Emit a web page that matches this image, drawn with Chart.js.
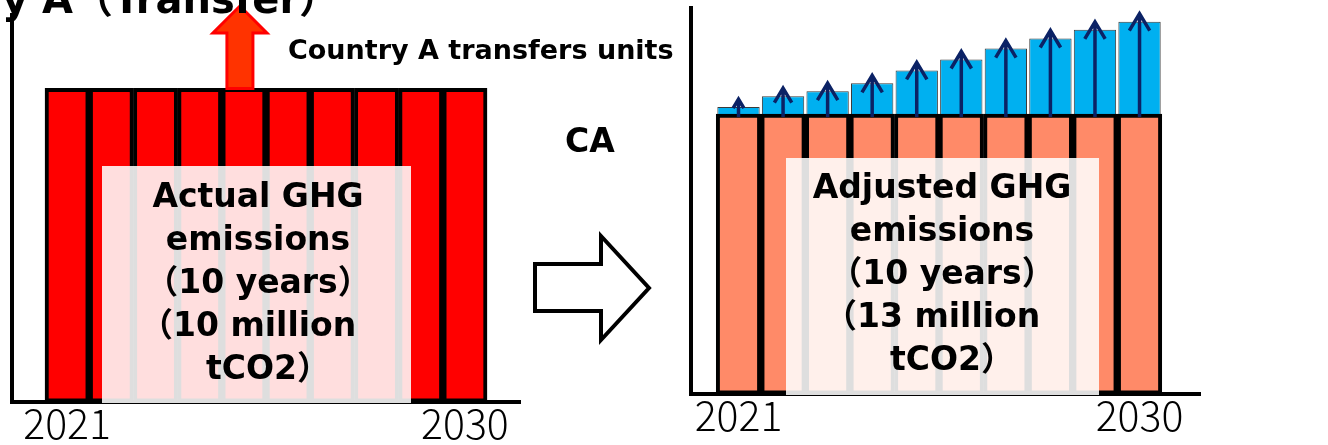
<!DOCTYPE html>
<html>
<head>
<meta charset="utf-8">
<script src="https://cdn.jsdelivr.net/npm/chart.js@4.4.1/dist/chart.umd.min.js"></script>
<style>
  html, body { margin: 0; padding: 0; background: #fff; }
  #wrap { position: relative; width: 1328px; height: 445px; overflow: hidden; }
  #wrap canvas { position: absolute; left: 0; top: 0; }
</style>
</head>
<body>
<div id="wrap">
  <canvas id="before" width="1328" height="445"></canvas>
  <canvas id="after" width="1328" height="445"></canvas>
</div>
<script>
const years = [2021, 2022, 2023, 2024, 2025, 2026, 2027, 2028, 2029, 2030];
const tickYears = [2021, 2030];
// million tCO2 per year
const actualEmissions = [1, 1, 1, 1, 1, 1, 1, 1, 1, 1];
const adjustedBase = [1, 1, 1, 1, 1, 1, 1, 1, 1, 1];
const transferredUnits = [0.025, 0.064, 0.082, 0.11, 0.156, 0.195, 0.234, 0.27, 0.301, 0.33];

const titleText = 'Country A（Transfer）';
const transferText = 'Country A transfers units';
const caText = 'CA';
const actualLines = ['Actual GHG', 'emissions', '（10 years）', '（10 million', 'tCO2）'];
const adjustedLines = ['Adjusted GHG', 'emissions', '（10 years）', '（13 million', 'tCO2）'];

const FONT = '"DejaVu Sans", "Noto Sans CJK JP", sans-serif';
const CJK_FONT = '"Noto Sans CJK JP", sans-serif';
const TICK_FONT = '"Noto Sans CJK JP", "Noto Sans", sans-serif';

let points = (values) => years.map((y, i) => ({ x: y, y: values[i] }));

let yearTicks = {
  color: '#000',
  padding: 3,
  maxRotation: 0,
  autoSkip: false,
  font: { family: TICK_FONT, size: 41, weight: 300, lineHeight: 0.9 },
  callback: (v) => String(v),
};

let setYearTicks = (scale) => {
  scale.ticks = tickYears.map(v => ({ value: v }));
};

let drawTextBox = (ctx, rect, lines, cx, baseline, step) => {
  const size = 33;
  ctx.save();
  ctx.fillStyle = 'rgba(255,255,255,0.87)';
  ctx.fillRect(rect[0], rect[1], rect[2] - rect[0], rect[3] - rect[1]);
  ctx.fillStyle = '#000';
  ctx.font = `bold ${size}px ${FONT}`;
  ctx.textAlign = 'left';
  ctx.textBaseline = 'alphabetic';
  lines.forEach((line, i) => {
    // full-width brackets carry blank space on their outer side, centre on the ink
    let w = ctx.measureText(line).width;
    let lead = line.startsWith('（') ? size * 0.6 : 0;
    let trail = line.endsWith('）') ? size * 0.6 : 0;
    ctx.fillText(line, cx - (w - lead - trail) / 2 - lead, baseline + i * step);
  });
  ctx.restore();
};

// latin in DejaVu, full-width brackets from the CJK font
let drawMixed = (ctx, text, size, x, y) => {
  text.split(/([（）])/).filter(Boolean).forEach(part => {
    ctx.font = `bold ${size}px ${/[（）]/.test(part) ? CJK_FONT : FONT}`;
    ctx.fillText(part, x, y);
    x += ctx.measureText(part).width;
  });
};

// left panel extras: transfer arrow, captions, text box, the big arrow between panels
const beforeDecor = {
  id: 'beforeDecor',
  afterDatasetsDraw(chart) {
    const { ctx, scales: { x, y } } = chart;
    const top = y.getPixelForValue(actualEmissions[4]);
    const cx = x.getPixelForValue(years[4]) - 4;

    ctx.save();
    ctx.beginPath();
    ctx.moveTo(cx, 6);
    ctx.lineTo(cx + 27, 33);
    ctx.lineTo(cx + 13, 33);
    ctx.lineTo(cx + 13, top);
    ctx.lineTo(cx - 13, top);
    ctx.lineTo(cx - 13, 33);
    ctx.lineTo(cx - 27, 33);
    ctx.closePath();
    ctx.fillStyle = '#FF3300';
    ctx.fill();
    ctx.lineWidth = 3;
    ctx.strokeStyle = '#FF0000';
    ctx.stroke();
    ctx.restore();

    drawTextBox(ctx, [102, 166, 411, 403], actualLines, 258, 207, 43);
  },
  afterDraw(chart) {
    const ctx = chart.ctx;
    ctx.save();
    ctx.fillStyle = '#000';
    ctx.textAlign = 'left';
    ctx.textBaseline = 'alphabetic';

    ctx.font = `bold 40px ${FONT}`;
    const lead = ctx.measureText('Country ').width;
    drawMixed(ctx, titleText, 40, 42 - lead, 13);

    ctx.font = `bold 27px ${FONT}`;
    ctx.fillText(transferText, 288, 59);

    ctx.font = `bold 33px ${FONT}`;
    ctx.fillText(caText, 565, 152);

    // hollow arrow pointing to the adjusted panel
    ctx.beginPath();
    ctx.moveTo(535, 264);
    ctx.lineTo(601, 264);
    ctx.lineTo(601, 236);
    ctx.lineTo(649, 288);
    ctx.lineTo(601, 340);
    ctx.lineTo(601, 311);
    ctx.lineTo(535, 311);
    ctx.closePath();
    ctx.fillStyle = '#fff';
    ctx.fill();
    ctx.lineWidth = 4;
    ctx.lineJoin = 'miter';
    ctx.strokeStyle = '#000';
    ctx.stroke();
    ctx.restore();
  }
};

// right panel extras: up arrows on the transferred units, text box
const afterDecor = {
  id: 'afterDecor',
  afterDatasetsDraw(chart) {
    const { ctx, scales: { y } } = chart;
    const meta = chart.getDatasetMeta(1);
    ctx.save();
    ctx.strokeStyle = '#0B2265';
    ctx.lineWidth = 3.5;
    meta.data.forEach((bar, i) => {
      const base = y.getPixelForValue(adjustedBase[i]) + 3;
      const tip = bar.y - 8;
      const head = Math.min(17, (base - tip) * 0.5);
      ctx.beginPath();
      ctx.moveTo(bar.x, base);
      ctx.lineTo(bar.x, tip);
      ctx.moveTo(bar.x - head * 0.6, tip + head);
      ctx.lineTo(bar.x, tip);
      ctx.lineTo(bar.x + head * 0.6, tip + head);
      ctx.stroke();
    });
    ctx.restore();

    drawTextBox(ctx, [786, 158, 1099, 395], adjustedLines, 942, 198, 43);
  }
};

new Chart(document.getElementById('before'), {
  type: 'bar',
  data: {
    datasets: [{
      data: points(actualEmissions),
      backgroundColor: '#FF0000',
      borderColor: '#000',
      borderWidth: 4,
      borderSkipped: false,
      barPercentage: 1,
      categoryPercentage: 1,
    }]
  },
  options: {
    responsive: false,
    animation: false,
    layout: { padding: { left: 12, right: 808, top: 15, bottom: 0 } },
    plugins: { legend: { display: false }, tooltip: { enabled: false } },
    scales: {
      x: {
        type: 'linear',
        offset: false,
        min: 2019.753,
        max: 2031.246,
        afterBuildTicks: setYearTicks,
        grid: { display: false, drawTicks: false, offset: false },
        border: { color: '#000', width: 4 },
        ticks: yearTicks,
      },
      y: {
        min: 0,
        max: 1.234,
        grid: { display: false, drawTicks: false },
        border: { color: '#000', width: 4 },
        ticks: { display: false },
      }
    }
  },
  plugins: [beforeDecor]
});

new Chart(document.getElementById('after'), {
  type: 'bar',
  data: {
    datasets: [{
      data: points(adjustedBase),
      stack: 'year',
      backgroundColor: '#FF8A68',
      borderColor: '#000',
      borderWidth: 4,
      borderSkipped: false,
      barPercentage: 1,
      categoryPercentage: 1,
    }, {
      data: points(transferredUnits),
      stack: 'year',
      backgroundColor: '#00B0F0',
      borderColor: '#3A3A3A',
      borderWidth: 1,
      barPercentage: 0.95,
      categoryPercentage: 1,
    }]
  },
  options: {
    responsive: false,
    animation: false,
    layout: { padding: { left: 691, right: 128, top: 8, bottom: 8 } },
    plugins: { legend: { display: false }, tooltip: { enabled: false } },
    scales: {
      x: {
        type: 'linear',
        offset: false,
        min: 2019.934,
        max: 2031.357,
        afterBuildTicks: setYearTicks,
        grid: { display: false, drawTicks: false, offset: false },
        border: { color: '#000', width: 4 },
        ticks: yearTicks,
      },
      y: {
        min: 0,
        max: 1.379,
        stacked: true,
        grid: { display: false, drawTicks: false },
        border: { color: '#000', width: 4 },
        ticks: { display: false },
      }
    }
  },
  plugins: [afterDecor]
});
</script>
</body>
</html>
